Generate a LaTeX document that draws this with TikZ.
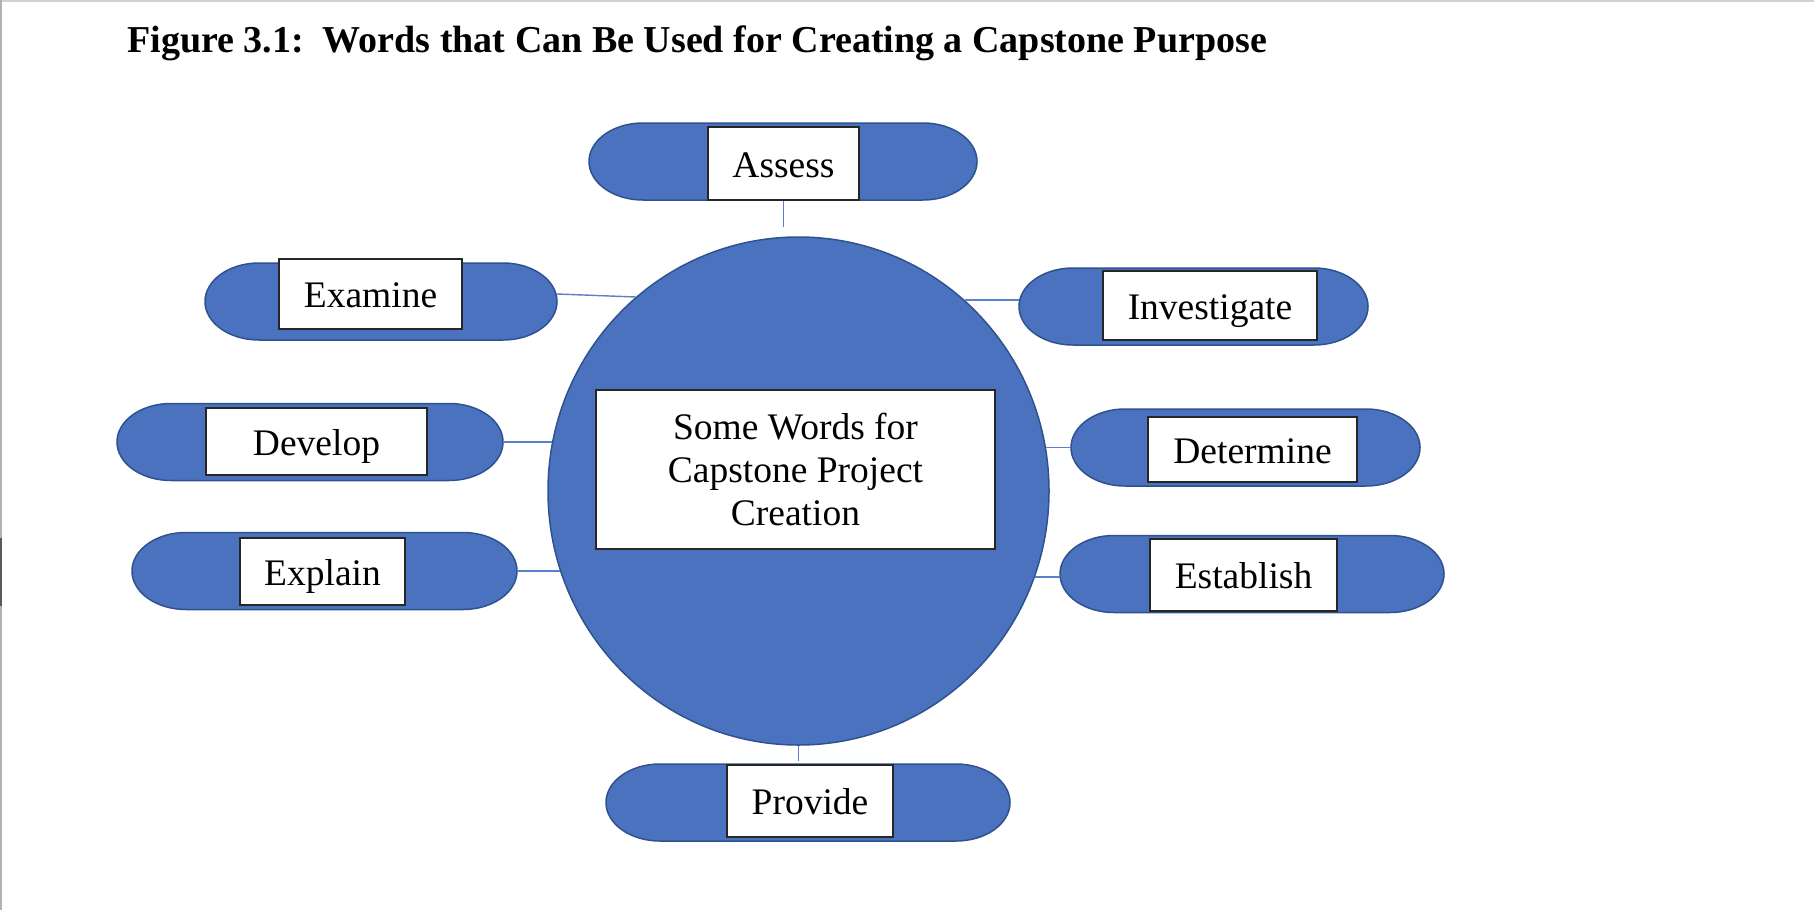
\documentclass[tikz,border=0pt]{standalone}
\usepackage{fontspec}
\setmainfont{Liberation Serif}
\usetikzlibrary{shapes.geometric}

\definecolor{pillblue}{RGB}{74,114,190}
\definecolor{pilledge}{RGB}{47,82,143}
\definecolor{linkblue}{RGB}{91,127,200}

\tikzset{
  pillbox/.style={rectangle,draw=none,inner sep=0pt,outer sep=0pt,minimum height=38.5pt},
  pill/.style={fill=pillblue,draw=pilledge,line width=0.75pt},
  wordbox/.style={rectangle,draw=black!85,fill=white,line width=0.7pt,inner sep=0pt,
    font=\fontsize{18.75}{21.65}\selectfont,text height=17pt,text depth=3.5pt},
  centrebox/.style={rectangle,draw=black!85,fill=white,line width=0.7pt,inner sep=0pt,
    align=center,font=\fontsize{18.75}{21.65}\selectfont},
  hub/.style={ellipse,fill=pillblue,draw=pilledge,line width=0.75pt,inner sep=0pt,
    minimum width=250.5pt,minimum height=254pt},
  link/.style={draw=linkblue,line width=0.7pt}
}

\begin{document}
\begin{tikzpicture}[x=0.5pt,y=-0.5pt]
\useasboundingbox (0,0) rectangle (1814,910);

% page edge
\fill[gray!35] (0,0) rectangle (1814,2);
\fill[gray!60] (0,0) rectangle (2,910);
\fill[black!65] (0,538) rectangle (2,606);

% caption
\node[anchor=base west,inner sep=0pt,font=\bfseries\fontsize{19}{22}\selectfont] (title) at (127,52)
  {Figure 3.1:\ \ Words that Can Be Used for Creating a Capstone Purpose};

% the big circle:
\node[hub] (hub) at (798.5,491) {};
\node[centrebox,minimum width=199.5pt,minimum height=79.5pt] (centre) at (795.5,469.5)
  {Some Words for\\Capstone Project\\Creation};

% terminator shapes round the circle:
\foreach \nm/\cx/\cy/\w in {ass/783/161.5/194pt, exam/381/301.5/176pt, inv/1193.5/306.5/174.5pt,
    dev/310/442/193pt, det/1245.5/447.5/174.5pt, exp/324.5/571/192.5pt,
    est/1252/574/192pt, prov/808/802.5/202pt}{
  \node[pillbox,minimum width=\w] (\nm) at (\cx,\cy) {};
  \filldraw[pill] ([xshift=27pt]\nm.north west) -- ([xshift=-27pt]\nm.north east)
    arc[start angle=90,end angle=-90,x radius=27pt,y radius=19.25pt]
    -- ([xshift=27pt]\nm.south west)
    arc[start angle=270,end angle=90,x radius=27pt,y radius=19.25pt] -- cycle;
}

% words:
\node[wordbox,minimum width=75.5pt,minimum height=36.5pt] (assw) at (783.5,163.5) {Assess};
\node[wordbox,minimum width=91.5pt,minimum height=35pt] (examw) at (370.5,294) {Examine};
\node[wordbox,minimum width=107pt,minimum height=34.5pt] (invw) at (1210,305.5) {Investigate};
\node[wordbox,minimum width=110.5pt,minimum height=33.5pt] (devw) at (316.5,441.5) {Develop};
\node[wordbox,minimum width=104.5pt,minimum height=32.5pt] (detw) at (1252.5,449.5) {Determine};
\node[wordbox,minimum width=82.5pt,minimum height=33.5pt] (expw) at (322.5,571.5) {Explain};
\node[wordbox,minimum width=93.5pt,minimum height=36pt] (estw) at (1243.5,575) {Establish};
\node[wordbox,minimum width=83pt,minimum height=36pt] (provw) at (810,801) {Provide};

% connectors:
\draw[link,shorten >=4.5pt] (assw.south) -- (assw.south |- hub.north);
\draw[link] (examw -| exam.east) -- (hub.130);
\draw[link] (hub.49) -- (hub.49 -| inv.west);
\draw[link,shorten >=-2.5pt] (dev.east) -- (dev.east -| hub.west);
\draw[link,shorten <=-2pt] (hub.east |- det.west) -- (det.west);
\draw[link,shorten >=-6.6pt] (exp.east) -- (exp.east -| hub.west);
\draw[link] (hub.340) -- (hub.340 -| est.west);
\draw[link,shorten >=1.5pt] (hub.south) -- (hub.south |- prov.north);

\end{tikzpicture}
\end{document}
